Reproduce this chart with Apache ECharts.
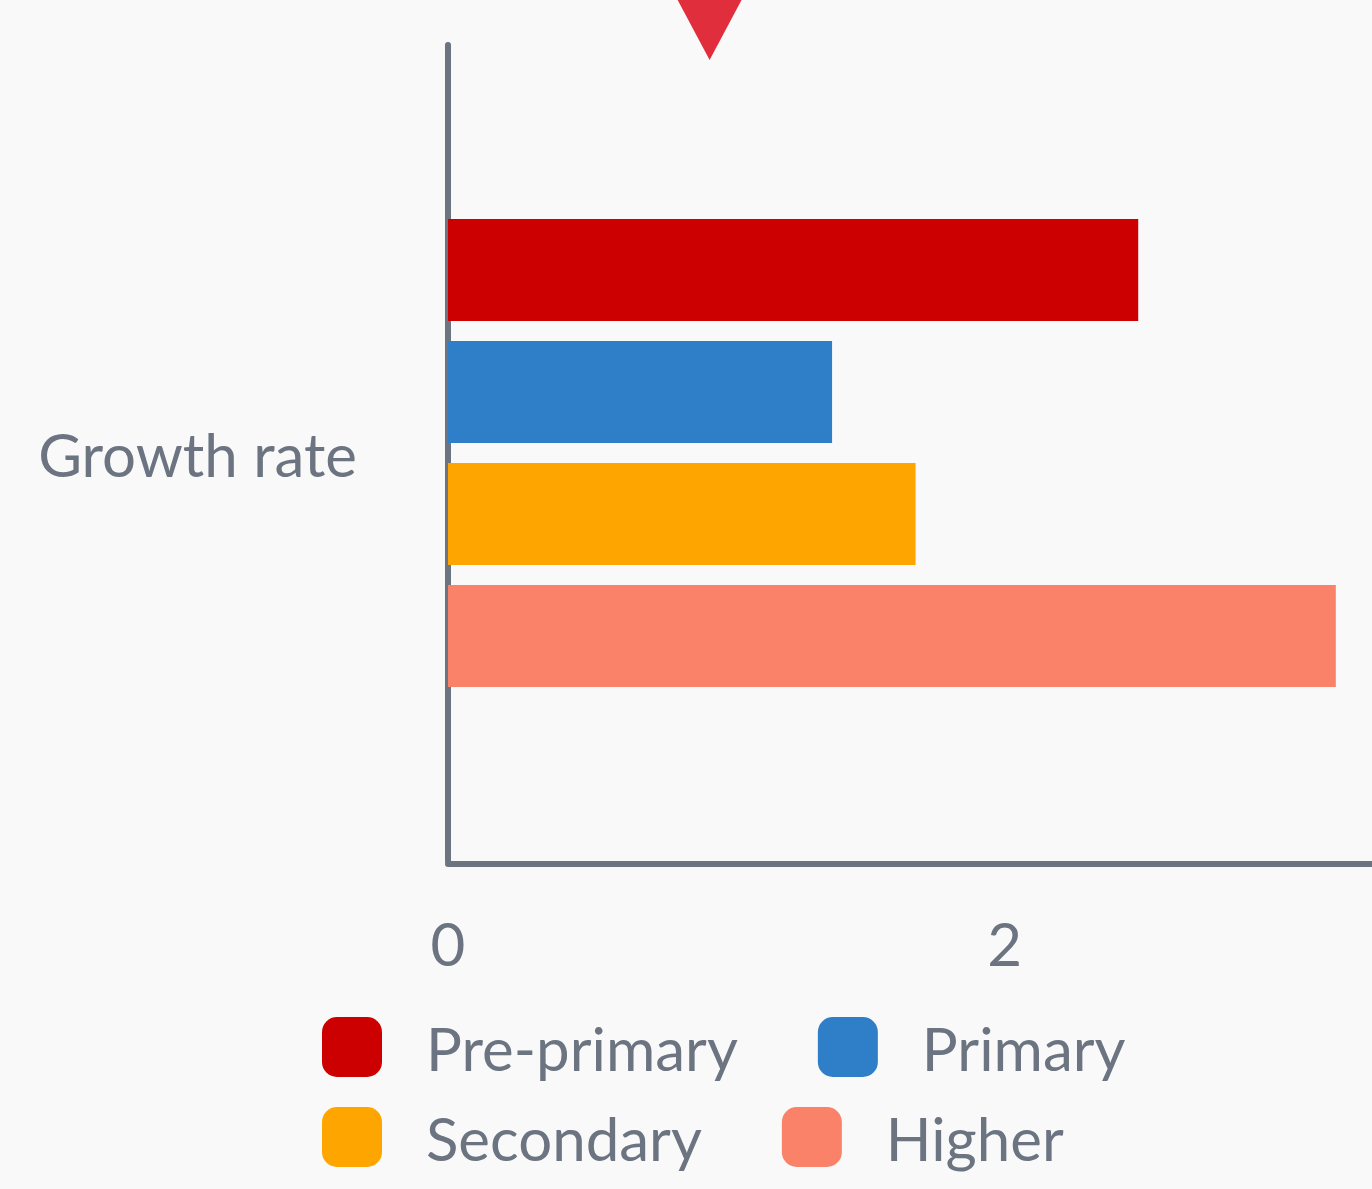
<!DOCTYPE html>
<html><head><meta charset="utf-8">
<script src="https://cdn.jsdelivr.net/npm/echarts@6/dist/echarts.min.js"></script>
<style>html,body{margin:0;padding:0;background:#f9f9f9}#c{width:1372px;height:1189px}</style>
</head><body><div id="c"></div>
<script>
const categories = ['Growth rate'];
const seriesNames = ['Pre-primary', 'Primary', 'Secondary', 'Higher'];
const preprimary = [2.48];
const primary = [1.38];
const secondary = [1.68];
const higher = [3.19];
const markerValue = 0.94;
const xTicks = [0, 2];

const colors = ['#cc0000', '#2f7fc8', '#ffa500', '#fa8268'];
const textColor = '#6b7480';
const fontFamily = 'Lato';
const values = [preprimary, primary, secondary, higher];

const chart = echarts.init(document.getElementById('c'), null, {renderer: 'canvas'});
const option = {
  backgroundColor: '#f9f9f9',
  animation: false,
  color: colors,
  textStyle: {fontFamily: fontFamily},
  grid: {left: 448, right: 0, top: 45, bottom: 328, containLabel: false},
  legend: {
    left: 317, top: 1007, width: 900,
    itemWidth: 60, itemHeight: 60, itemGap: 20,
    icon: 'roundRect',
    formatter: n => '{a|' + n + '}',
    textStyle: {
      color: textColor, fontSize: 60, fontFamily: fontFamily,
      rich: {a: {color: textColor, fontSize: 60, fontFamily: fontFamily, lineHeight: 60, padding: [10, 60, 0, 39]}}
    },
    data: seriesNames
  },
  xAxis: {
    type: 'value', min: 0, max: 3.32, interval: xTicks[1] - xTicks[0],
    offset: 3,
    axisLine: {show: true, lineStyle: {color: '#6b7580', width: 6}},
    axisTick: {show: false},
    splitLine: {show: false},
    axisLabel: {color: textColor, fontSize: 60, margin: 53, showMaxLabel: false, fontFamily: fontFamily,
      formatter: v => (xTicks.indexOf(v) >= 0 ? String(v) : '')}
  },
  yAxis: {
    type: 'category', data: categories,
    offset: 3,
    axisLine: {show: true, lineStyle: {color: '#6b7580', width: 6}},
    axisTick: {show: false},
    axisLabel: {
      margin: 88,
      formatter: v => '{a|' + v + '}',
      rich: {a: {color: textColor, fontSize: 60, fontFamily: fontFamily, lineHeight: 60, padding: [10, 0, 0, 0]}}
    }
  },
  series: seriesNames.map((n, i) => ({
    name: n, type: 'bar', data: values[i],
    barWidth: 102, barGap: '19.6%',
    itemStyle: {color: colors[i]}
  }))
};
chart.setOption(option);
const px = chart.convertToPixel({xAxisIndex: 0}, markerValue);
chart.setOption({
  graphic: [{
    type: 'polygon', z: 100,
    shape: {points: [[px - 33, -2], [px + 33, -2], [px, 60]]},
    style: {fill: '#e02e3c'}
  }]
});
</script></body></html>
